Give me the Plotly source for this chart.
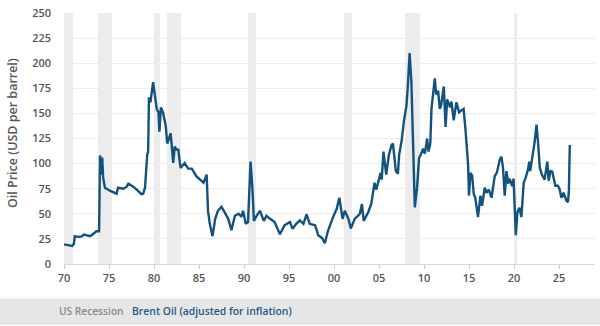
import plotly.graph_objects as go

# Brent crude, inflation-adjusted (USD per barrel), decimal year -> price
years = [
    1970.0, 1970.5, 1970.9, 1971.1, 1971.2, 1971.6, 1972.0, 1972.2, 1972.6, 1972.9,
    1973.2, 1973.6, 1973.9, 1974.0, 1974.1, 1974.15, 1974.25, 1974.35, 1974.55, 1975.1,
    1975.85, 1976.0, 1976.6, 1976.96, 1977.15, 1977.7, 1978.2, 1978.6, 1978.8, 1979.0,
    1979.25, 1979.35, 1979.44, 1979.6, 1979.9, 1980.1, 1980.3, 1980.5, 1980.6, 1980.77,
    1981.0, 1981.3, 1981.47, 1981.85, 1982.14, 1982.3, 1982.5, 1982.7, 1982.95, 1983.4,
    1983.8, 1984.2, 1984.7, 1985.0, 1985.5, 1985.85, 1986.0, 1986.2, 1986.5, 1986.8,
    1987.1, 1987.5, 1987.9, 1988.25, 1988.6, 1988.99, 1989.4, 1989.7, 1989.9, 1990.2,
    1990.45, 1990.73, 1990.95, 1991.1, 1991.4, 1991.77, 1992.2, 1992.5, 1992.9, 1993.4,
    1993.99, 1994.5, 1995.1, 1995.4, 1995.8, 1996.2, 1996.6, 1996.95, 1997.3, 1997.9,
    1998.25, 1998.7, 1998.98, 1999.35, 1999.9, 2000.3, 2000.6, 2000.8, 2000.95, 2001.2,
    2001.6, 2001.87, 2002.3, 2002.87, 2003.1, 2003.3, 2003.8, 2004.15, 2004.5, 2004.7,
    2005.17, 2005.3, 2005.5, 2005.8, 2006.1, 2006.4, 2006.55, 2006.87, 2007.1, 2007.24,
    2007.5, 2007.76, 2008.05, 2008.2, 2008.4, 2008.6, 2008.8, 2008.98, 2009.23, 2009.45,
    2009.7, 2009.9, 2010.1, 2010.35, 2010.5, 2010.7, 2010.83, 2011.0, 2011.2, 2011.35,
    2011.57, 2011.75, 2011.9, 2012.2, 2012.4, 2012.57, 2012.9, 2013.05, 2013.3, 2013.6,
    2013.9, 2014.15, 2014.4, 2014.6, 2014.9, 2015.0, 2015.16, 2015.35, 2015.53, 2015.7,
    2016.0, 2016.27, 2016.45, 2016.75, 2016.95, 2017.2, 2017.5, 2017.86, 2018.1, 2018.42,
    2018.6, 2018.78, 2018.97, 2019.16, 2019.35, 2019.5, 2019.8, 2019.95, 2020.2, 2020.38,
    2020.6, 2020.82, 2021.08, 2021.3, 2021.55, 2021.7, 2021.8, 2022.3, 2022.5, 2022.65,
    2022.87, 2023.1, 2023.4, 2023.7, 2023.85, 2024.05, 2024.25, 2024.4, 2024.6, 2024.87,
    2025.05, 2025.27, 2025.5, 2025.83, 2026.0, 2026.1, 2026.2,
]
brent_real = [
    19.6, 18.5, 18.0, 20.0, 27.7, 27.0, 27.5, 29.4, 28.5, 27.7,
    29.7, 32.6, 32.6, 108.0, 104.0, 89.0, 106.0, 86.0, 76.0, 73.0,
    70.0, 76.0, 75.0, 77.0, 80.0, 77.0, 73.0, 69.6, 70.0, 76.0,
    109.0, 112.0, 166.0, 161.0, 181.0, 167.6, 154.5, 151.0, 131.7, 156.0,
    151.0, 138.0, 120.0, 130.0, 100.6, 117.0, 114.0, 113.7, 95.7, 100.6,
    95.0, 95.0, 87.5, 85.0, 81.0, 89.0, 53.0, 40.0, 27.7, 45.0,
    53.0, 57.0, 50.0, 45.0, 33.6, 48.0, 50.0, 47.0, 53.0, 40.0,
    42.0, 102.0, 73.0, 43.0, 48.0, 53.0, 43.0, 48.0, 45.0, 41.8,
    29.7, 38.5, 41.8, 35.0, 40.0, 43.4, 40.0, 49.3, 40.0, 38.6,
    28.7, 25.5, 20.6, 33.6, 46.7, 55.0, 66.0, 55.0, 45.0, 53.0,
    45.0, 35.3, 45.0, 50.0, 59.8, 43.0, 51.6, 60.0, 81.0, 74.0,
    90.8, 84.0, 112.0, 89.0, 108.8, 118.6, 120.0, 92.5, 90.0, 108.8,
    121.9, 141.5, 157.8, 177.0, 210.0, 180.7, 108.8, 56.5, 76.0, 105.5,
    110.0, 115.0, 110.0, 125.0, 112.0, 120.0, 154.5, 171.0, 185.0, 169.0,
    172.5, 154.5, 158.0, 176.8, 136.6, 164.0, 156.0, 161.7, 143.0, 161.0,
    151.0, 153.0, 154.5, 135.0, 99.0, 68.0, 90.8, 88.0, 69.6, 66.0,
    46.7, 68.0, 58.0, 76.0, 71.0, 74.0, 66.0, 87.5, 91.0, 104.0,
    107.0, 95.7, 68.0, 92.5, 80.0, 85.0, 77.7, 85.0, 28.7, 51.6,
    56.0, 46.7, 81.0, 86.0, 94.0, 102.0, 92.5, 121.9, 138.8, 123.5,
    95.7, 89.0, 84.0, 102.0, 83.0, 92.5, 92.0, 86.0, 78.0, 78.0,
    75.0, 66.0, 71.0, 63.0, 61.6, 73.0, 118.6,
]

# US recessions (NBER), first and last month as (year, month)
recession_start = [(1969, 12), (1973, 11), (1980, 1), (1981, 7), (1990, 7), (2001, 3), (2007, 12), (2020, 2)]
recession_end = [(1970, 11), (1975, 3), (1980, 7), (1982, 11), (1991, 3), (2001, 11), (2009, 6), (2020, 4)]

tick_years = [1970, 1975, 1980, 1985, 1990, 1995, 2000, 2005, 2010, 2015, 2020, 2025]
tick_labels = ["70", "75", "80", "85", "90", "95", "00", "05", "10", "15", "20", "25"]

# one thin column per recession month
rec_x = []
for (ys, ms), (ye, me) in zip(recession_start, recession_end):
    y, m = ys, ms
    while (y, m) <= (ye, me):
        rec_x.append(y + (m - 1) / 12 + 1 / 24)
        m += 1
        if m > 12:
            y, m = y + 1, 1

Y_MAX = 250
LINE_BLUE = "#12527f"
TEXT_GREY = "#555555"
FONT = "Open Sans"

fig = go.Figure()
fig.add_trace(go.Bar(
    x=rec_x, y=[Y_MAX] * len(rec_x), width=1 / 12 * 0.6,
    marker=dict(color="#ececec", line=dict(width=0)),
    hoverinfo="skip", name="US Recession",
))
fig.add_trace(go.Scatter(
    x=years, y=brent_real, mode="lines",
    line=dict(color=LINE_BLUE, width=2.4),
    name="Brent Oil (adjusted for inflation)",
))

W, H = 600, 326
ML, MR, MT, MB = 64, 5, 9, 62
pw, ph = W - ML - MR, H - MT - MB


def px_x(p):
    return (p - ML) / pw


def px_y(p):
    return (H - MB - p) / ph


fig.update_layout(
    width=W, height=H,
    margin=dict(l=ML, r=MR, t=MT, b=MB),
    paper_bgcolor="white", plot_bgcolor="white",
    showlegend=False, bargap=0,
    font=dict(family=FONT, size=11, color=TEXT_GREY),
    xaxis=dict(
        range=[1970, 2029], tickmode="array", tickvals=tick_years, ticktext=tick_labels,
        showgrid=False, zeroline=False, showline=True, linecolor="#d9d9d9", linewidth=1,
        ticks="outside", ticklen=4, tickcolor="#cccccc",
        tickfont=dict(family=FONT, size=11, color=TEXT_GREY, weight=600),
    ),
    yaxis=dict(
        range=[0, Y_MAX], tickmode="linear", tick0=0, dtick=25,
        showgrid=True, gridcolor="#ececec", gridwidth=1, zeroline=False,
        showline=False, ticks="", ticklabelstandoff=12,
        tickfont=dict(family=FONT, size=11, color=TEXT_GREY, weight=600),
    ),
    shapes=[dict(
        type="rect", xref="paper", yref="paper",
        x0=px_x(0), x1=px_x(W), y0=px_y(299), y1=px_y(H),
        fillcolor="#e6e6e6", line=dict(width=0), layer="below",
    )],
    annotations=[
        dict(text="Oil Price (USD per barrel)", xref="paper", yref="paper",
             x=px_x(12), y=px_y(131), textangle=-90, showarrow=False,
             xanchor="center", yanchor="middle",
             font=dict(family=FONT, size=12.5, color=TEXT_GREY, weight=600)),
        dict(text="US Recession", xref="paper", yref="paper",
             x=px_x(57), y=px_y(312), showarrow=False, xanchor="left", yanchor="middle",
             font=dict(family=FONT, size=10.2, color="#8a8a8a", weight=600)),
        dict(text="Brent Oil (adjusted for inflation)", xref="paper", yref="paper",
             x=px_x(130), y=px_y(312), showarrow=False, xanchor="left", yanchor="middle",
             font=dict(family=FONT, size=10.4, color="#1a5a8c", weight=600)),
    ],
)

fig.write_html("out.html")
